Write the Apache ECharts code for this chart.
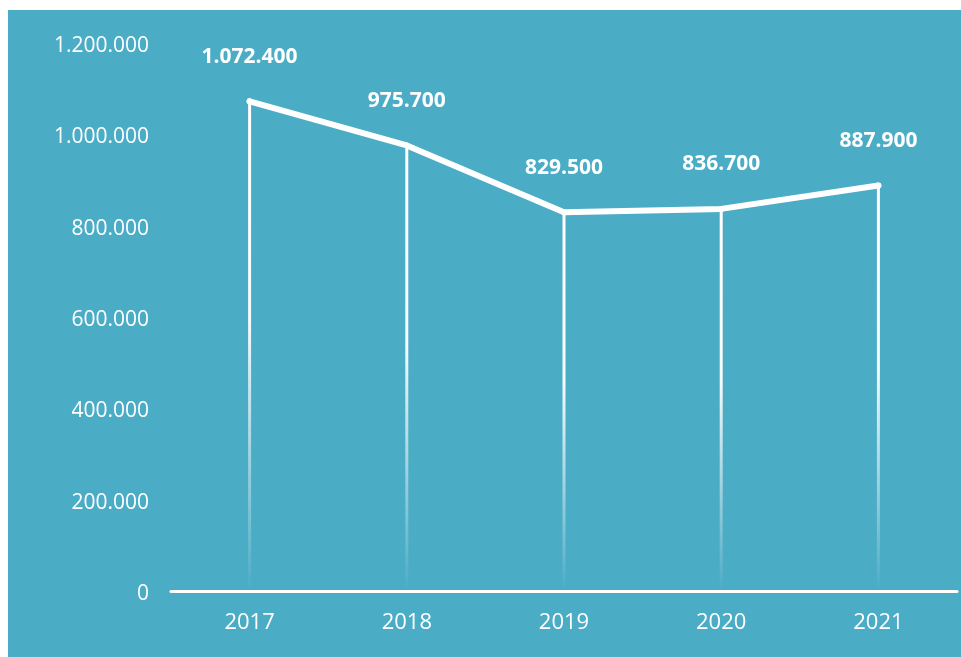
<!DOCTYPE html>
<html>
<head>
<meta charset="utf-8">
<script src="https://cdn.jsdelivr.net/npm/echarts@6/dist/echarts.min.js"></script>
<style>
html,body{margin:0;padding:0;background:#fff;}
#chart{width:961px;height:657px;}
</style>
</head>
<body>
<div id="chart"></div>
<script>
const years = ['2017', '2018', '2019', '2020', '2021'];
const values = [1072400, 975700, 829500, 836700, 887900];
const yTicks = [0, 200000, 400000, 600000, 800000, 1000000, 1200000];

function fmt(v) {
  return String(v).replace(/\B(?=(\d{3})+(?!\d))/g, '.');
}

const chart = echarts.init(document.getElementById('chart'), null, {renderer: 'canvas'});
chart.setOption({
  backgroundColor: 'transparent',
  animation: false,
  graphic: [{
    type: 'rect', z: -10, silent: true,
    shape: {x: 8, y: 10, width: 953, height: 647},
    style: {fill: '#4BACC6'}
  }],
  grid: {left: 171, right: 4, top: 43, bottom: 66, containLabel: false},
  xAxis: {
    type: 'category',
    data: years,
    boundaryGap: true,
    axisLine: {show: true, lineStyle: {color: '#ffffff', width: 3}},
    axisTick: {show: false},
    axisLabel: {color: '#ffffff', fontFamily: 'Open Sans', fontSize: 22, margin: 21},
    splitLine: {show: false}
  },
  yAxis: {
    type: 'value',
    min: yTicks[0],
    max: yTicks[yTicks.length - 1],
    interval: yTicks[1] - yTicks[0],
    axisLine: {show: false},
    axisTick: {show: false},
    splitLine: {show: false},
    axisLabel: {color: '#ffffff', fontFamily: 'Open Sans', fontSize: 21, margin: 22, lineHeight: 26, verticalAlign: 'top', padding: [-10, 0, 0, 0], formatter: v => fmt(v)}
  },
  series: [
    {
      type: 'bar',
      data: values,
      barWidth: 3,
      z: 1,
      itemStyle: {
        color: {
          type: 'linear', x: 0, y: 0, x2: 0, y2: 1,
          colorStops: [
            {offset: 0, color: 'rgba(255,255,255,1)'},
            {offset: 0.45, color: 'rgba(255,255,255,0.95)'},
            {offset: 1, color: 'rgba(255,255,255,0)'}
          ]
        }
      }
    },
    {
      type: 'line',
      data: values,
      z: 3,
      showSymbol: true,
      symbol: 'circle',
      symbolSize: 6,
      itemStyle: {color: '#ffffff'},
      lineStyle: {color: '#ffffff', width: 6, cap: 'round', join: 'round'},
      label: {
        show: true,
        position: 'top',
        distance: 31,
        color: '#ffffff',
        fontFamily: 'Open Sans',
        fontWeight: 'bold',
        fontSize: 21,
        formatter: p => fmt(p.value)
      }
    }
  ]
});
</script>
</body>
</html>
